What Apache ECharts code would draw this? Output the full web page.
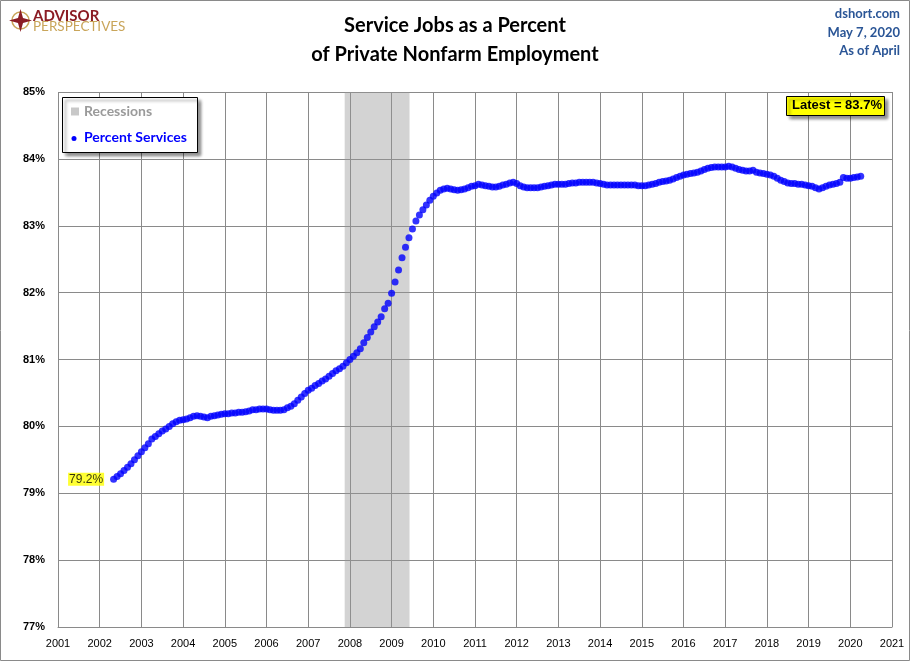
<!DOCTYPE html>
<html>
<head>
<meta charset="utf-8">
<title>Service Jobs as a Percent of Private Nonfarm Employment</title>
<script src="https://cdn.jsdelivr.net/npm/echarts@6/dist/echarts.min.js"></script>
<style>
  html, body { margin: 0; padding: 0; background: #fff; }
  #main { width: 910px; height: 661px; }
</style>
</head>
<body>
<div id="main"></div>
<script>
// monthly values, first point = May 2002
var startYear = 2002, startMonth = 5;
var pctServices = [
  79.21, 79.25, 79.29, 79.34, 79.39, 79.44, 79.50, 79.56,                  // 2002 May-Dec
  79.62, 79.68, 79.74, 79.81, 79.85, 79.89, 79.93, 79.96, 80.00, 80.04, 80.07, 80.09, // 2003
  80.10, 80.11, 80.13, 80.15, 80.16, 80.15, 80.14, 80.13, 80.15, 80.16, 80.17, 80.18, // 2004
  80.19, 80.19, 80.20, 80.20, 80.21, 80.21, 80.22, 80.23, 80.25, 80.25, 80.26, 80.26, // 2005
  80.26, 80.25, 80.24, 80.24, 80.24, 80.25, 80.28, 80.30, 80.34, 80.39, 80.44, 80.49, // 2006
  80.54, 80.57, 80.61, 80.64, 80.68, 80.71, 80.75, 80.79, 80.83, 80.86, 80.90, 80.95, // 2007
  81.00, 81.05, 81.10, 81.16, 81.25, 81.33, 81.41, 81.49, 81.56, 81.64, 81.76, 81.84, // 2008
  81.99, 82.16, 82.34, 82.52, 82.68, 82.82, 82.95, 83.07, 83.16, 83.24, 83.31, 83.38, // 2009
  83.44, 83.49, 83.53, 83.55, 83.56, 83.55, 83.54, 83.53, 83.54, 83.55, 83.57, 83.59, // 2010
  83.60, 83.62, 83.61, 83.60, 83.59, 83.58, 83.58, 83.59, 83.61, 83.62, 83.64, 83.65, // 2011
  83.63, 83.60, 83.58, 83.57, 83.57, 83.57, 83.57, 83.58, 83.59, 83.60, 83.61, 83.62, // 2012
  83.62, 83.62, 83.62, 83.63, 83.64, 83.64, 83.65, 83.65, 83.65, 83.65, 83.65, 83.64, // 2013
  83.63, 83.62, 83.61, 83.61, 83.61, 83.61, 83.61, 83.61, 83.61, 83.61, 83.61, 83.60, // 2014
  83.60, 83.60, 83.61, 83.62, 83.63, 83.65, 83.66, 83.67, 83.68, 83.70, 83.72, 83.74, // 2015
  83.76, 83.77, 83.78, 83.79, 83.80, 83.82, 83.84, 83.86, 83.87, 83.88, 83.88, 83.88, // 2016
  83.88, 83.89, 83.88, 83.86, 83.84, 83.83, 83.82, 83.82, 83.83, 83.80, 83.79, 83.78, // 2017
  83.77, 83.76, 83.74, 83.71, 83.68, 83.66, 83.64, 83.63, 83.63, 83.62, 83.62, 83.61, // 2018
  83.60, 83.59, 83.57, 83.55, 83.57, 83.59, 83.61, 83.62, 83.63, 83.65, 83.72, 83.71, // 2019
  83.71, 83.72, 83.73, 83.74                                               // 2020 Jan-Apr
];
// recession (decimal years)
var recessions = [[2007.875, 2009.43]];
var firstLabel = '79.2%';
var latestLabel = 'Latest = 83.7%';

var blue = '#0000FF';
var gridColor = '#8a8a8a';
var txtFont = '"Liberation Sans", Arial, sans-serif';
var hdFont = 'Lato, "Open Sans", sans-serif';

var pts = [];
for (var i = 0; i < pctServices.length; i++) {
    var m = startMonth - 1 + i;
    var x = startYear + Math.floor(m / 12) + (m % 12) / 12;
    var item = { value: [x, pctServices[i]] };
    if (i === 0) {
        item.label = {
            show: true, position: 'left', distance: 6,
            formatter: firstLabel,
            backgroundColor: '#FFFF00', padding: [1, 1, 0, 1],
            color: '#000', fontFamily: txtFont, fontSize: 12
        };
    }
    pts.push(item);
}

var recAreas = recessions.map(function (r) {
    return [{ xAxis: r[0] }, { xAxis: r[1] }];
});

var myChart = echarts.init(document.getElementById('main'), null, { renderer: 'canvas' });

var option = {
    backgroundColor: '#fff',
    animation: false,
    grid: { left: 58, right: 18, top: 92, bottom: 34 },
    xAxis: {
        type: 'value', min: 2001, max: 2021, interval: 1,
        axisLine: { show: true, lineStyle: { color: gridColor } },
        axisTick: { show: false },
        splitLine: { show: true, lineStyle: { color: gridColor, width: 1 } },
        axisLabel: { color: '#000', fontFamily: txtFont, fontSize: 11, margin: 11,
            formatter: function (v) { return String(v); } }
    },
    yAxis: {
        type: 'value', min: 77, max: 85, interval: 1,
        axisLine: { show: false },
        axisTick: { show: false },
        splitLine: { show: true, lineStyle: { color: gridColor, width: 1 } },
        axisLabel: { color: '#000', fontFamily: txtFont, fontSize: 11, fontWeight: 'bold', margin: 13,
            formatter: function (v) { return v + '%'; } }
    },
    series: [
        {
            // translucent so the year gridlines stay visible through the shading
            name: 'Recessions', type: 'line', data: [], z: 0,
            markArea: { silent: true, itemStyle: { color: 'rgba(150,150,150,0.42)' }, data: recAreas }
        },
        {
            name: 'Percent Services', type: 'scatter', z: 3,
            symbolSize: 7,
            itemStyle: { color: blue },
            data: pts
        }
    ],
    graphic: [
        // outer frame
        { type: 'rect', shape: { x: 0.5, y: 0.5, width: 909, height: 660 },
          style: { fill: null, stroke: '#8a8a8a', lineWidth: 1 }, silent: true },
        // logo
        { type: 'circle', shape: { cx: 20.5, cy: 20.5, r: 8.5 },
          style: { fill: null, stroke: '#C9A55A', lineWidth: 1.5 } },
        { type: 'polygon', shape: { points: [[20.5, 9], [23, 18], [32, 20.5], [23, 23], [20.5, 32], [18, 23], [9, 20.5], [18, 18]] },
          style: { fill: '#8B1C24' } },
        { type: 'text', left: 33, top: 9,
          style: { text: 'ADVISOR', fill: '#8B1C24', font: 'bold 15px ' + hdFont } },
        { type: 'text', left: 33, top: 20,
          style: { text: 'PERSPECTIVES', fill: '#C9A55A', font: '13.5px ' + hdFont } },
        // title
        { type: 'text', left: 'center', top: 16,
          style: { text: 'Service Jobs as a Percent', fill: '#000', font: 'bold 20px ' + hdFont, align: 'center' } },
        { type: 'text', left: 'center', top: 45,
          style: { text: 'of Private Nonfarm Employment', fill: '#000', font: 'bold 20px ' + hdFont, align: 'center' } },
        // top right notes
        { type: 'text', right: 10, top: 7,
          style: { text: 'dshort.com', fill: '#2A5596', font: 'bold 13px ' + hdFont, align: 'right' } },
        { type: 'text', right: 10, top: 26,
          style: { text: 'May 7, 2020', fill: '#2A5596', font: 'bold 13px ' + hdFont, align: 'right' } },
        { type: 'text', right: 10, top: 44,
          style: { text: 'As of April', fill: '#2A5596', font: 'bold 13px ' + hdFont, align: 'right' } },
        // legend box
        { type: 'rect', z: 10, shape: { x: 62.5, y: 97.5, width: 135, height: 55 },
          style: { fill: '#fff', stroke: '#000', lineWidth: 1,
                   shadowBlur: 3, shadowOffsetX: 3, shadowOffsetY: 3, shadowColor: 'rgba(0,0,0,0.45)' } },
        { type: 'rect', z: 11, shape: { x: 71, y: 107.5, width: 8, height: 8 },
          style: { fill: '#C8C8C8' } },
        { type: 'text', z: 11, left: 84, top: 104,
          style: { text: 'Recessions', fill: '#9A9A9A', font: 'bold 14px ' + hdFont } },
        { type: 'circle', z: 11, shape: { cx: 74, cy: 138.5, r: 2.5 },
          style: { fill: blue } },
        { type: 'text', z: 11, left: 84, top: 130,
          style: { text: 'Percent Services', fill: blue, font: 'bold 14px ' + hdFont } },
        // latest box
        { type: 'rect', z: 10, shape: { x: 786.5, y: 96.5, width: 98, height: 19 },
          style: { fill: '#FFFF00', stroke: '#000', lineWidth: 1,
                   shadowBlur: 3, shadowOffsetX: 3, shadowOffsetY: 3, shadowColor: 'rgba(0,0,0,0.45)' } },
        { type: 'text', z: 11, left: 792, top: 99,
          style: { text: latestLabel, fill: '#000', font: 'bold 13px ' + txtFont } }
    ]
};

myChart.setOption(option);
</script>
</body>
</html>
